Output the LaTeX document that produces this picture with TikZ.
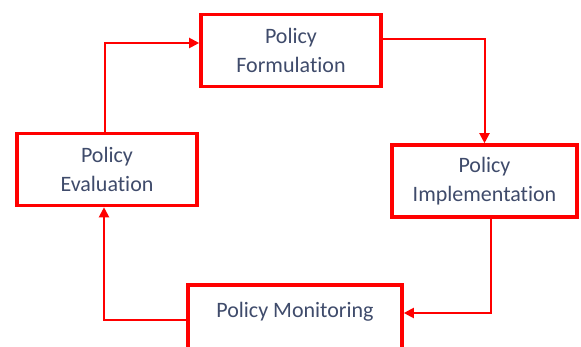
\documentclass[tikz,border=0pt]{standalone}
\usepackage{fontspec}
\setmainfont[Ligatures=NoCommon]{Carlito}
\usetikzlibrary{arrows.meta}
\definecolor{textc}{HTML}{3F4B6B}
\definecolor{boxred}{HTML}{FF0000}
\begin{document}
\begin{tikzpicture}[x=1pt,y=-1pt,
  box/.style={draw=boxred, line width=3.6pt, fill=white, align=center,
    text=textc, inner sep=0pt, font=\fontsize{22}{29}\selectfont},
  conn/.style={draw=boxred, line width=2pt,
    -{Triangle[length=10pt,width=10pt]}}]
\useasboundingbox (0,0) rectangle (581,347);
\clip (0,0) rectangle (581,347);
\fill[white] (0,0) rectangle (581,347);
\node[box, minimum width=180pt, minimum height=72pt] (form) at (291,50.5) {Policy\\Formulation};
\node[box, minimum width=180pt, minimum height=72pt] (eva) at (107,169.5) {Policy\\Evaluation};
\node[box, minimum width=185pt, minimum height=72pt] (imp) at (484.5,181) {Policy\\Implementation};
\node[box, minimum width=214pt, minimum height=79.5pt] (mon) at (295,324.5) {Policy Monitoring\\\mbox{}};
\draw[conn] ([xshift=-2pt]eva.north) |- ([yshift=7.5pt]form.west);
\draw[conn] ([yshift=11.5pt]form.east) -| (imp.north);
\draw[conn] ([xshift=6.5pt]imp.south) |- ([yshift=11.5pt]mon.east);
\draw[conn] ([yshift=4.5pt]mon.west) -| ([xshift=-3pt]eva.south);
\end{tikzpicture}
\end{document}
